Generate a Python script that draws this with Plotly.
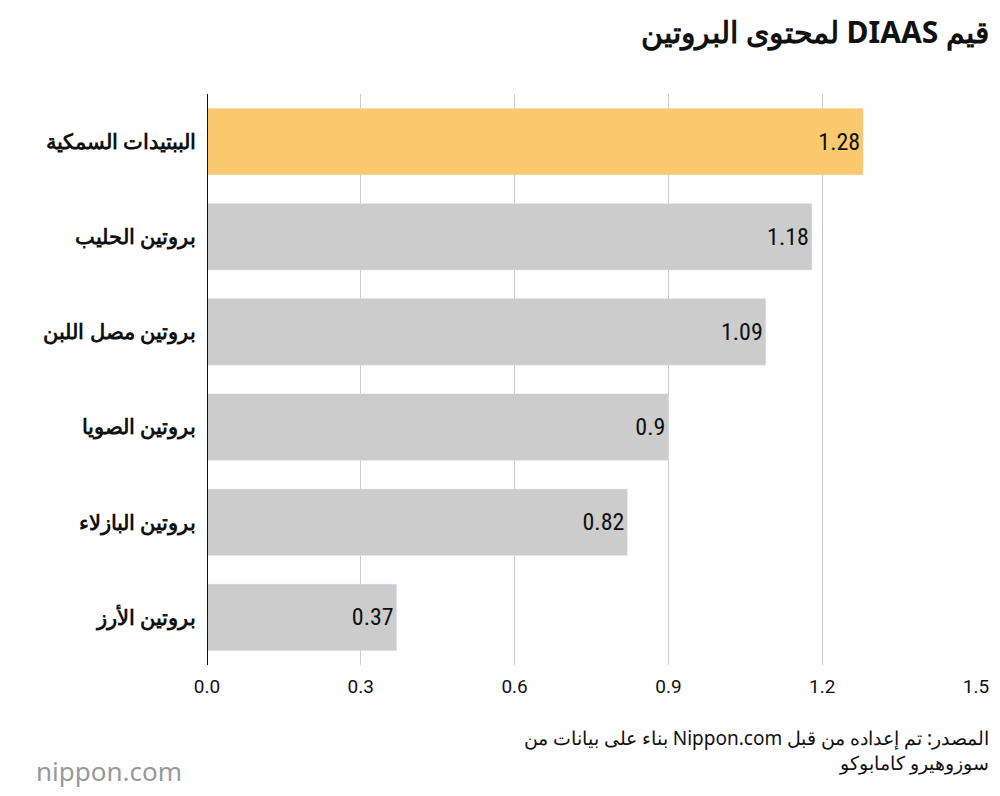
import plotly.graph_objects as go

categories = ["الببتيدات السمكية", "بروتين الحليب", "بروتين مصل اللبن", "بروتين الصويا", "بروتين البازلاء", "بروتين الأرز"]
values = [1.28, 1.18, 1.09, 0.9, 0.82, 0.37]
labels = ["1.28", "1.18", "1.09", "0.9", "0.82", "0.37"]
colors = ["#FAC96E"] + ["#CCCCCC"] * 5
tickvals = [0, 0.3, 0.6, 0.9, 1.2, 1.5]
ticktext = ["0.0", "0.3", "0.6", "0.9", "1.2", "1.5"]

RLE, PDF = "\u202B", "\u202C"

fig = go.Figure(go.Bar(
    x=values, y=categories, orientation="h", marker_color=colors,
    text=labels, textposition="inside", insidetextanchor="end",
    textfont=dict(size=24, color="#111111", family="Roboto Condensed, Roboto"),
    width=0.7, cliponaxis=False,
))
fig.update_layout(
    width=984, height=780, margin=dict(l=199, r=16, t=86, b=123),
    paper_bgcolor="white", plot_bgcolor="white", showlegend=False,
    font=dict(family="Noto Sans, DejaVu Sans", color="#111111"),
    xaxis=dict(range=[0, 1.5], tickvals=tickvals, ticktext=ticktext, showgrid=True,
               gridcolor="#CCCCCC", gridwidth=1, zeroline=False, ticks="", automargin=False,
               ticklabelstandoff=8,
               tickfont=dict(size=19, family="Roboto"), showline=False),
    yaxis=dict(autorange="reversed", ticks="", ticklabelstandoff=10, automargin=False,
               tickfont=dict(size=21, family="Noto Sans", weight="bold"), showline=False),
    shapes=[dict(type="line", xref="x", yref="paper", x0=0, x1=0, y0=0, y1=1,
                 line=dict(color="#111111", width=2))],
    annotations=[
        dict(text=RLE + "<b>قيم DIAAS لمحتوى البروتين</b>" + PDF, xref="paper", yref="paper", x=1.02, y=1, xanchor="right",
             yanchor="bottom", yshift=40, showarrow=False, font=dict(size=30, family="Noto Sans")),
        dict(text=RLE + "المصدر: تم إعداده من قبل Nippon.com بناء على بيانات من" + PDF + "<br>" + RLE + "سوزوهيرو كامابوكو" + PDF,
             xref="paper", yref="paper",
             x=1.02, y=0, xanchor="right", yanchor="top", yshift=-58, showarrow=False, align="right",
             font=dict(size=19, family="Noto Sans")),
        dict(text="nippon.com", xref="paper", yref="paper", x=-0.225, y=0, xanchor="left", yanchor="top",
             yshift=-86, showarrow=False, font=dict(size=26, color="#999999", family="Noto Sans")),
    ],
)
fig.write_html("out.html")
